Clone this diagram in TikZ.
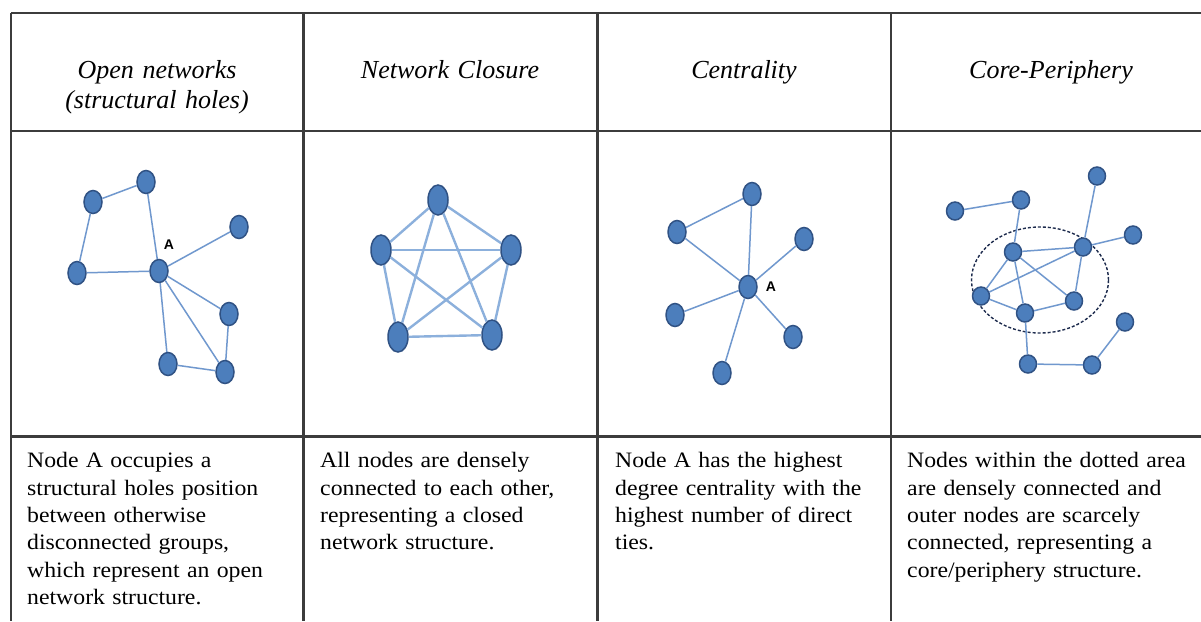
\documentclass[tikz,border=0pt]{standalone}
\usepackage{fontspec}
\setmainfont{Liberation Serif}
\newfontfamily\bodyfont[FakeStretch=1.08]{Liberation Serif}
\newfontfamily\tagfont{Liberation Sans}
\usetikzlibrary{shapes.geometric}

\definecolor{rule}{RGB}{60,60,60}
\definecolor{vfill}{RGB}{76,126,188}
\definecolor{vline}{RGB}{48,82,132}
\definecolor{tiecol}{RGB}{112,152,206}
\definecolor{densecol}{RGB}{140,176,220}
\definecolor{corering}{RGB}{30,44,78}

\tikzset{
  rulestyle/.style={draw=rule, line width=2.5pt},
  head/.style={font=\fontsize{26}{30}\selectfont\itshape, align=center, text width=280pt, inner sep=0pt, anchor=base},
  body/.style={font=\bodyfont\fontsize{22}{27.4}\selectfont, align=left, text width=330pt, inner sep=0pt, anchor=base west},
  vtx/.style={ellipse, draw=vline, fill=vfill, line width=1.5pt, inner sep=0pt, minimum width=18pt, minimum height=23pt},
  bigvtx/.style={vtx, minimum width=20pt, minimum height=30pt},
  dot/.style={vtx, minimum width=17pt, minimum height=18pt},
  tie/.style={draw=tiecol, line width=1.5pt},
  dense/.style={draw=densecol, line width=2.4pt},
  tag/.style={font=\tagfont\bfseries\fontsize{14}{14}\selectfont, inner sep=0pt}
}

\begin{document}
\begin{tikzpicture}[x=1pt, y=-1pt]
\useasboundingbox (0,0) rectangle (1201,621);
\fill[white] (0,0) rectangle (1201,621);

% table grid
\coordinate (tl) at (11,13);
\coordinate (tr) at (1201,13);
\coordinate (hl) at (11,131);
\coordinate (hr) at (1201,131);
\coordinate (rl) at (11,436.5);
\coordinate (rr) at (1201,436.5);
\draw[rulestyle] (tl) -- (tr);
\draw[rulestyle] (hl) -- (hr);
\draw[rulestyle] (rl) -- (rr);
\foreach \cx in {11,303.5,597.5,891}
  \draw[rulestyle] (\cx,13) -- (\cx,621);

% column headings
\node[head] (h1) at (157,78) {Open networks\\(structural holes)};
\node[head] (h2) at (450,78) {Network Closure};
\node[head] (h3) at (744,78) {Centrality};
\node[head] (h4) at (1051,78) {Core-Periphery};

% descriptions
\node[body] (d1) at (27,467.7) {Node A occupies a\\structural holes position\\between otherwise\\disconnected groups,\\which represent an open\\network structure.};
\node[body] (d2) at (320,467.7) {All nodes are densely\\connected to each other,\\representing a closed\\network structure.};
\node[body] (d3) at (615,467.7) {Node A has the highest\\degree centrality with the\\highest number of direct\\ties.};
\node[body] (d4) at (907,467.7) {Nodes within the dotted area\\are densely connected and\\outer nodes are scarcely\\connected, representing a\\core/periphery structure.};

% open network
\node[vtx] (o1) at (93,202) {};
\node[vtx] (o2) at (146,182) {};
\node[vtx] (o3) at (77,273) {};
\node[vtx] (oA) at (159,271) {};
\node[vtx] (o5) at (239,227) {};
\node[vtx] (o6) at (229,314) {};
\node[vtx] (o7) at (168,364) {};
\node[vtx] (o8) at (225,372) {};
\node[tag] (oa) at (169,245) {A};
\foreach \a/\b in {o1/o2,o1/o3,o2/oA,o3/oA,oA/o5,oA/o6,oA/o7,oA/o8,o6/o8,o7/o8}
  \draw[tie] (\a) -- (\b);

% closed network
\node[bigvtx] (c1) at (438,200) {};
\node[bigvtx] (c2) at (381,250) {};
\node[bigvtx] (c3) at (511,250) {};
\node[bigvtx] (c4) at (398,337) {};
\node[bigvtx] (c5) at (492,335) {};
\foreach \a/\b in {c1/c2,c1/c3,c1/c4,c1/c5,c2/c3,c2/c4,c2/c5,c3/c4,c3/c5,c4/c5}
  \draw[dense] (\a) -- (\b);

% centrality
\node[vtx] (s1) at (752,194) {};
\node[vtx] (s2) at (677,232) {};
\node[vtx] (s3) at (804,239) {};
\node[vtx] (sA) at (748,287) {};
\node[vtx] (s5) at (675,315) {};
\node[vtx] (s6) at (793,337) {};
\node[vtx] (s7) at (722,373) {};
\node[tag] (sa) at (771,287) {A};
\foreach \a/\b in {s1/s2,s2/sA,s1/sA,sA/s3,sA/s5,sA/s6,sA/s7}
  \draw[tie] (\a) -- (\b);

% core-periphery
\node[draw=corering, dash pattern=on 3pt off 2pt, line width=1.4pt, ellipse, minimum width=137pt, minimum height=106pt, inner sep=0pt] (ring) at (1040,280) {};
\node[dot] (p1) at (955,211) {};
\node[dot] (p2) at (1021,200) {};
\node[dot] (p3) at (1097,176) {};
\node[dot] (p4) at (1133,235) {};
\node[dot] (k1) at (1013,252) {};
\node[dot] (k2) at (1083,247) {};
\node[dot] (k3) at (981,296) {};
\node[dot] (k4) at (1074,301) {};
\node[dot] (k5) at (1025,313) {};
\node[dot] (p5) at (1125,322) {};
\node[dot] (p6) at (1028,364) {};
\node[dot] (p7) at (1092,365) {};
\foreach \a/\b in {p1/p2,p2/k1,p3/k2,p4/k2,k1/k2,k1/k3,k1/k4,k1/k5,k2/k3,k2/k4,k3/k5,k5/k4,k5/p6,p6/p7,p7/p5}
  \draw[tie] (\a) -- (\b);
\end{tikzpicture}
\end{document}
